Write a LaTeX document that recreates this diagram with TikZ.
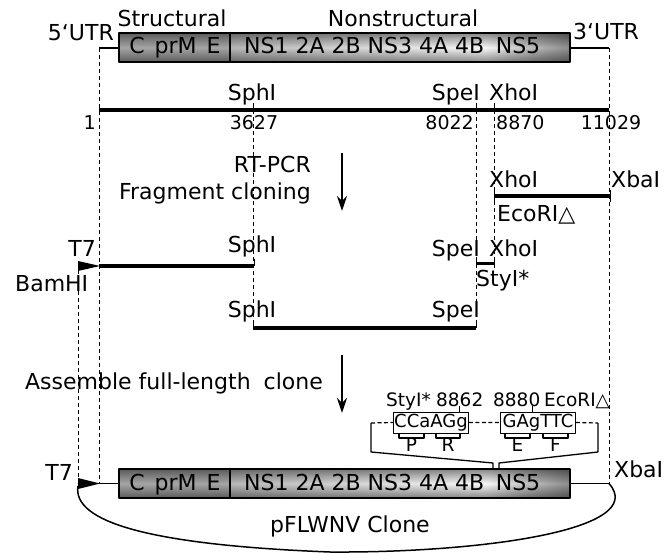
\documentclass[tikz,border=0pt]{standalone}
\usepackage{fontspec}
\setmainfont{DejaVu Sans}
\usetikzlibrary{arrows.meta,fadings}
\tikzfading[name=tubefade, top color=transparent!0, bottom color=transparent!0, middle color=transparent!100]
% genome bar, drawn at its own top edge; #1 = prefix of node names
\newcommand{\wnvgenome}[1]{%
  \shade[left color=gray!70, middle color=gray!25, right color=gray!70] (119,0) rectangle (230,29);
  \shade[left color=gray!55, right color=gray!5] (230,0) rectangle (485,29);
  \shade[left color=gray!5, right color=gray!90] (485,0) rectangle (570,29);
  \fill[black, opacity=.45, path fading=tubefade] (119,0) rectangle (570,29);
  \draw[line width=2pt] (119,0) rectangle (570,29) (230,0) -- (230,29);
  \node[lbl] (#1-s) at (175,21) {C\hspace{3pt} prM\hspace{3pt} E};
  \node[lbl, anchor=base west] (#1-ns) at (244,21) {NS1 2A 2B NS3 4A 4B};
  \node[lbl] (#1-ns5) at (518,21) {NS5};
}
\begin{document}
\begin{tikzpicture}[x=1pt, y=-1pt, font=\fontsize{22}{25}\selectfont, line join=round,
    lbl/.style={inner sep=0pt, anchor=base},
    num/.style={inner sep=0pt, anchor=base, font=\fontsize{19}{22}\selectfont},
    seq/.style={inner sep=0pt, anchor=base west, font=\fontsize{18.5}{21}\selectfont},
    seqbox/.style={draw, line width=0.9pt, inner sep=0pt, minimum width=75pt, minimum height=21pt, font=\fontsize{18}{21}\selectfont},
    guide/.style={line width=0.9pt, dash pattern=on 4pt off 3pt},
    frag/.style={line width=4.5pt},
    tick/.style={line width=1pt},
    stage/.style={line width=2.8pt, -{Stealth[length=15pt, width=10pt]}}]
  \useasboundingbox (0,0) rectangle (672,553);
  % sites along the genome
  \coordinate (L) at (99,48);
  \coordinate (R) at (609,48);
  \coordinate (Sph) at (253,110);
  \coordinate (Spe) at (476,110);
  \coordinate (Xho) at (494,110);
  \coordinate (Bam) at (78,270);
  % dashed guide lines
  \draw[guide] (L) -- (99,483);
  \draw[guide] (R) -- (609,483);
  \draw[guide] (Sph) -- (253,328);
  \draw[guide] (Spe) -- (476,328);
  \draw[guide] (Xho) -- (494,264);
  \draw[guide] (Bam) -- (78,479);
  % viral genome
  \begin{scope}[shift={(0,33)}]
    \wnvgenome{t}
  \end{scope}
  \node[lbl] (nstruct) at (172,27) {Structural};
  \node[lbl] (nnonstruct) at (403,27) {Nonstructural};
  \node[lbl, anchor=base east] (n5utr) at (114,41) {5‘UTR};
  \node[lbl, anchor=base west] (n3utr) at (573,40) {3‘UTR};
  \draw[line width=1.5pt] (L) -- (119,48);
  \draw[line width=1.5pt] (570,48) -- (R);
  % cDNA map
  \draw[frag] (99,110) -- (609,110);
  \foreach \c in {Sph,Spe,Xho}
    \draw[tick] (\c) -- ++(0,-7);
  \node[lbl] (gSph) at (252,101) {SphI};
  \node[lbl, anchor=base east] (gSpe) at (480,101) {SpeI};
  \node[lbl, anchor=base west] (gXho) at (489,101) {XhoI};
  \node[num, anchor=base east] (k1) at (96,130) {1};
  \node[num] (k3627) at (254,130) {3627};
  \node[num, anchor=base east] (k8022) at (474,130) {8022};
  \node[num, anchor=base west] (k8870) at (496,130) {8870};
  \node[num] (k11029) at (611,130) {11029};
  % step 1
  \node[lbl, anchor=base east] (rtpcr) at (311,173) {RT-PCR};
  \node[lbl, anchor=base east] (fragcl) at (311,200) {Fragment cloning};
  \coordinate (a1) at (342,153);
  \coordinate (a1e) at (342,211);
  \draw[stage] (a1) -- (a1e);
  % fragments
  \draw[frag] (494,196) -- (610,196);
  \draw[tick] (494,190) -- (494,202) (610,190) -- (610,202);
  \node[lbl, anchor=base west] (fXho) at (489,188) {XhoI};
  \node[lbl, anchor=base west] (fXba) at (611,188) {XbaI};
  \node[lbl, anchor=base west] (fEco) at (497,222) {EcoRI△};
  \draw[frag] (99,266) -- (254,266);
  \draw[tick] (254,259) -- (254,266);
  \fill (78,261) -- (100,266) -- (78,271) -- cycle;
  \node[lbl, anchor=base east] (fT7) at (96,257) {T7};
  \node[lbl, anchor=base west] (fBam) at (15,292) {BamHI};
  \node[lbl] (fSph) at (252,253) {SphI};
  \draw[line width=3pt] (476,264) -- (494,264);
  \draw[tick] (476,258) -- (476,268) (494,258) -- (494,268);
  \node[lbl, anchor=base east] (fSpe) at (480,257) {SpeI};
  \node[lbl, anchor=base west] (fXho2) at (489,257) {XhoI};
  \node[lbl, anchor=base west] (fSty) at (476,287) {StyI*};
  \draw[frag] (253,328) -- (476,328);
  \draw[tick] (253,321) -- (253,328) (476,321) -- (476,328);
  \node[lbl] (cSph) at (252,318) {SphI};
  \node[lbl, anchor=base east] (cSpe) at (480,318) {SpeI};
  % step 2
  \node[lbl, anchor=base west] (assemble) at (25,389) {Assemble full-length\hspace{6pt} clone};
  \coordinate (a2) at (342,355);
  \coordinate (a2e) at (342,413);
  \draw[stage] (a2) -- (a2e);
  % junction sequence detail
  \node[seq] (dSty) at (386,406) {StyI*};
  \node[seq] (d8862) at (436,406) {8862};
  \node[seq] (d8880) at (493,406) {8880};
  \node[seq] (dEco) at (544,406) {EcoRI△};
  \node[seqbox] (stybox) at (431,422.5) {CCaAGg};
  \node[seqbox] (ecobox) at (538,422.5) {GAgTTC};
  \draw[tick] (459,406) -- (459,412) (532,406) -- (532,412);
  \draw[line width=1.2pt, dash pattern=on 4pt off 2.5pt] (371,423) -- (stybox.west) (stybox.east) -- (ecobox.west) (ecobox.east) -- (598,423);
  \draw[line width=1.3pt] (371,423) -- (371,452) -- (493,463) -- (493,469);
  \draw[line width=1.3pt] (598,423) -- (598,452) -- (499,463) -- (499,469);
  \foreach \a/\b/\t in {399/424/P, 436/460/R, 505/530/E, 543/568/F} {
    \draw[line width=1.4pt] (\a,433) -- (\a,438) -- (\b,438) -- (\b,433);
    \node[seq, anchor=base] (l\t) at ({(\a+\b)/2},451) {\t};
  }
  % full-length clone
  \begin{scope}[shift={(0,469)}]
    \wnvgenome{b}
  \end{scope}
  \draw[line width=1.5pt] (99,483.5) -- (119,483.5);
  \draw[line width=1.5pt] (570,483.5) -- (609,483.5);
  \fill (78,478) -- (100,483.5) -- (78,489) -- cycle;
  \node[lbl, anchor=base east] (bT7) at (73,480) {T7};
  \node[lbl, anchor=base west] (bXba) at (614,477) {XbaI};
  \draw[line width=1.5pt] (78,486) .. controls (72,522) and (150,545) .. (330,552)
    .. controls (480,553) and (650,530) .. (609,483.5);
  \node[lbl] (clone) at (350,532) {pFLWNV Clone};
\end{tikzpicture}
\end{document}
